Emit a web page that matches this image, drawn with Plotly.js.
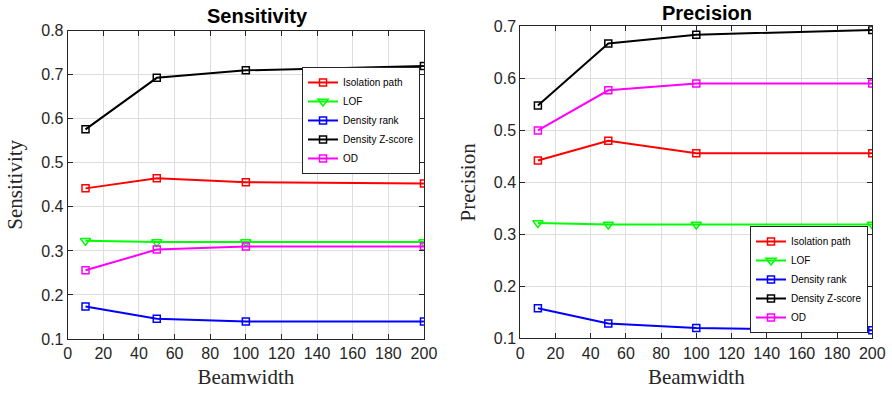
<!DOCTYPE html>
<html>
<head>
<meta charset="utf-8">
<script src="https://cdn.plot.ly/plotly-3.0.1.min.js"></script>
<style>html,body{margin:0;padding:0;background:#fff}#chart{width:892px;height:394px}</style>
</head>
<body>
<div id="chart"></div>
<script>
const beamwidth = [10, 50, 100, 200];
const seriesNames = ['Isolation path', 'LOF', 'Density rank', 'Density Z-score', 'OD'];
const seriesColors = ['#ff0000', '#00ff00', '#0000ff', '#000000', '#ff00ff'];
const seriesSymbols = ['square-open', 'triangle-down-open', 'square-open', 'square-open', 'square-open'];

const sensIsolation = [0.442, 0.465, 0.456, 0.453];
const sensLOF = [0.323, 0.320, 0.320, 0.320];
const sensDensityRank = [0.174, 0.146, 0.140, 0.140];
const sensDensityZ = [0.576, 0.693, 0.710, 0.720];
const sensOD = [0.256, 0.303, 0.310, 0.310];

const precIsolation = [0.442, 0.480, 0.456, 0.456];
const precLOF = [0.322, 0.319, 0.319, 0.319];
const precDensityRank = [0.158, 0.129, 0.120, 0.116];
const precDensityZ = [0.548, 0.667, 0.684, 0.693];
const precOD = [0.500, 0.577, 0.590, 0.590];

const sensSeries = [sensIsolation, sensLOF, sensDensityRank, sensDensityZ, sensOD];
const precSeries = [precIsolation, precLOF, precDensityRank, precDensityZ, precOD];

function makeTrace(vals, i, xa, ya, lg) {
  const tri = seriesSymbols[i].startsWith('tri');
  return {
    x: beamwidth, y: vals, name: seriesNames[i], type: 'scatter', mode: 'lines+markers',
    xaxis: xa, yaxis: ya, legend: lg,
    line: {color: seriesColors[i], width: 2},
    marker: {symbol: seriesSymbols[i], size: tri ? 9 : 7, color: seriesColors[i], line: {width: 1.5, color: seriesColors[i]}}
  };
}
const traces = [];
sensSeries.forEach((vals, i) => traces.push(makeTrace(vals, i, 'x', 'y', 'legend')));
precSeries.forEach((vals, i) => traces.push(makeTrace(vals, i, 'x2', 'y2', 'legend2')));

const tickFont = {family: 'Liberation Sans, Arial, sans-serif', size: 16, color: '#262626'};
const serifFont = {family: 'Liberation Serif, Times New Roman, serif', size: 21, color: '#262626'};
const xTicks = [0, 20, 40, 60, 80, 100, 120, 140, 160, 180, 200];

function xAxis(domain, anchor) {
  return {
    domain: domain, anchor: anchor, range: [0, 200], tickvals: xTicks, ticktext: xTicks.map(String),
    showgrid: true, gridcolor: '#dedede', gridwidth: 1, zeroline: false,
    showline: true, linecolor: '#262626', linewidth: 1, mirror: 'allticks',
    ticks: 'inside', ticklen: 5, tickcolor: '#262626', tickfont: tickFont,
    title: {text: 'Beamwidth', font: serifFont, standoff: 8}
  };
}
function yAxis(domain, anchor, range, ticks, title) {
  return {
    domain: domain, anchor: anchor, range: range, tickvals: ticks, ticktext: ticks.map(v => v.toFixed(1)),
    showgrid: true, gridcolor: '#dedede', gridwidth: 1, zeroline: false,
    showline: true, linecolor: '#262626', linewidth: 1, mirror: 'allticks',
    ticks: 'inside', ticklen: 5, tickcolor: '#262626', tickfont: tickFont,
    title: {text: title, font: serifFont, standoff: 12}
  };
}

const sensTicks = [0.1, 0.2, 0.3, 0.4, 0.5, 0.6, 0.7, 0.8];
const precTicks = [0.1, 0.2, 0.3, 0.4, 0.5, 0.6, 0.7];

const legendStyle = {
  bgcolor: '#ffffff', bordercolor: '#262626', borderwidth: 1,
  font: {family: 'Liberation Sans, Arial, sans-serif', size: 10, color: '#000'},
  xanchor: 'left', yanchor: 'top', tracegroupgap: 0, itemwidth: 30
};

const titleFont = {family: 'Liberation Sans, Arial, sans-serif', size: 20, color: '#000'};

const layout = {
  width: 892, height: 394,
  margin: {l: 0, r: 0, t: 0, b: 0},
  paper_bgcolor: '#ffffff', plot_bgcolor: '#ffffff',
  showlegend: true,
  xaxis: xAxis([0.0759, 0.4753], 'y'),
  yaxis: yAxis([0.1396, 0.9221], 'x', [0.1, 0.8], sensTicks, 'Sensitivity'),
  xaxis2: xAxis([0.5833, 0.9779], 'y2'),
  yaxis2: yAxis([0.1409, 0.9332], 'x2', [0.1, 0.7], precTicks, 'Precision'),
  legend: Object.assign({x: 0.3386, y: 0.830}, legendStyle),
  legend2: Object.assign({x: 0.8408, y: 0.4264}, legendStyle),
  annotations: [
    {text: '<b>Sensitivity</b>', xref: 'paper', yref: 'paper', x: 0.2892, y: 0.960, xanchor: 'center', yanchor: 'middle', showarrow: false, font: titleFont},
    {text: '<b>Precision</b>', xref: 'paper', yref: 'paper', x: 0.7922, y: 0.966, xanchor: 'center', yanchor: 'middle', showarrow: false, font: titleFont}
  ]
};

Plotly.newPlot('chart', traces, layout, {staticPlot: true, displayModeBar: false});
</script>
</body>
</html>
